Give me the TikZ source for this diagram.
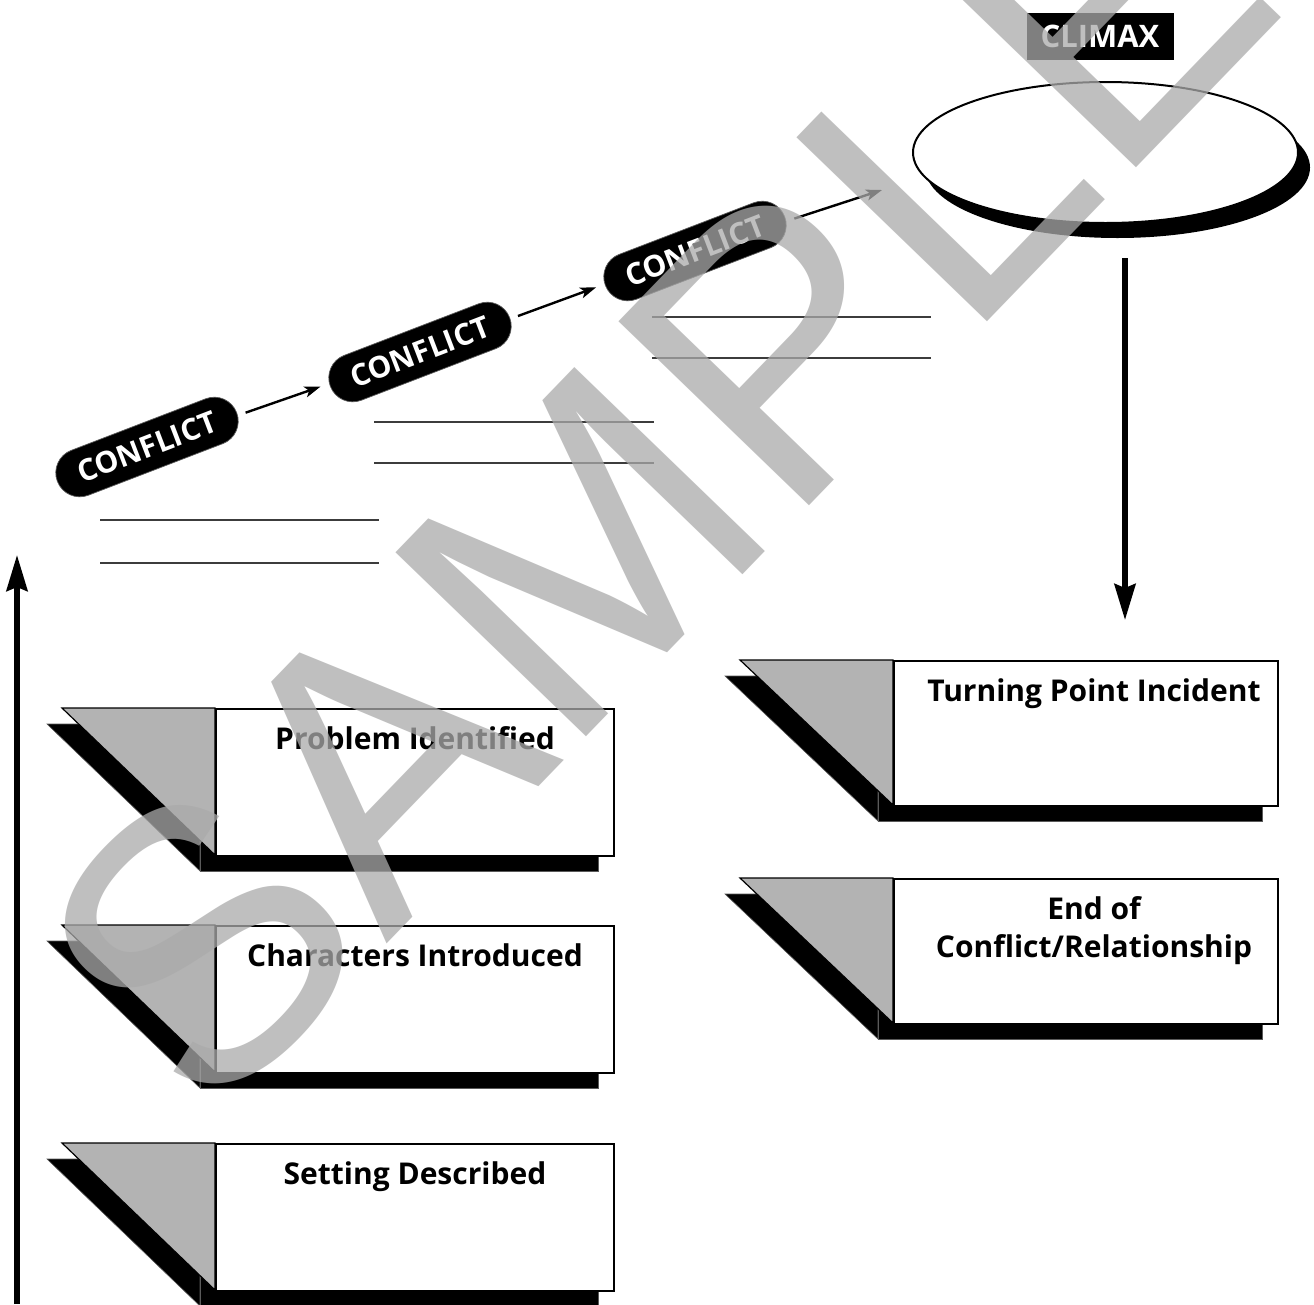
\documentclass[tikz,border=0pt]{standalone}
\usepackage{fontspec}
\setmainfont{Open Sans}
\newfontfamily\wmfont{Liberation Sans}
\usetikzlibrary{arrows.meta,shapes.geometric,calc}
\definecolor{triGray}{RGB}{179,179,179}
\definecolor{wmGray}{RGB}{170,170,170}
\definecolor{lineGray}{RGB}{60,60,60}
\definecolor{shEdge}{RGB}{90,90,90}

% #1 left x of white box, #2 top y, #3 right x, #4 bottom y
\newcommand\storyback[4]{%
  \filldraw[fill=black,draw=shEdge,line width=0.6pt] (#1-168,#2+16) -- (#1-15,#2+16) -- (#1-15,#4+16) -- cycle;
  \filldraw[fill=black,draw=shEdge,line width=0.6pt] (#1-15,#2+16) rectangle (#3-15,#4+16);
  \filldraw[fill=triGray,draw=black,line width=1.2pt,line join=miter] (#1-153,#2) -- (#1,#2) -- (#1,#4) -- cycle;
}

\tikzset{
  whitebox/.style={draw=black,fill=white,line width=2pt,inner sep=0pt,anchor=north west},
  boxtitle/.style={font=\fontsize{30}{38}\selectfont\bfseries,align=center,anchor=north,inner sep=0pt},
  pill/.style={fill=black,draw=shEdge,line width=0.7pt,rounded corners=24pt,minimum width=192pt,
    minimum height=48pt,inner sep=0pt,rotate=21,text=white,font=\fontsize{30}{30}\selectfont\bfseries},
  smallarrow/.style={line width=2.4pt,-{Stealth[length=16pt,width=11pt,inset=4pt]},shorten <=8pt,shorten >=9pt},
  bigarrow/.style={line width=5.5pt,-{Stealth[length=36pt,width=21pt,inset=4pt]}},
  blank/.style={line width=1.5pt,draw=lineGray},
}

\begin{document}
\begin{tikzpicture}[x=1pt,y=-1pt]
\useasboundingbox (0,0) rectangle (1314,1304);
\fill[white] (0,0) rectangle (1314,1304);

% vertical arrows
\coordinate (upstart) at (17,1304);
\coordinate (uptip) at (17,555);
\draw[bigarrow] (upstart) -- (uptip);

% story boxes (left column)
\storyback{215}{708}{613}{855}
\node[whitebox,minimum width=398pt,minimum height=147pt] (prob) at (215,708) {};
\node[boxtitle] (probt) at ($(prob.north)+(0,18)$) {Problem Identified};

\storyback{215}{925}{613}{1072}
\node[whitebox,minimum width=398pt,minimum height=147pt] (char) at (215,925) {};
\node[boxtitle] (chart) at ($(char.north)+(0,18)$) {Characters Introduced};

\storyback{215}{1143}{613}{1290}
\node[whitebox,minimum width=398pt,minimum height=147pt] (sett) at (215,1143) {};
\node[boxtitle] (settt) at ($(sett.north)+(0,18)$) {Setting Described};

% right column
\storyback{893}{660}{1277}{805}
\node[whitebox,minimum width=384pt,minimum height=145pt] (turn) at (893,660) {};
\node[boxtitle] (turnt) at ($(turn.north)+(8,18)$) {Turning Point Incident};

\storyback{893}{878}{1277}{1023}
\node[whitebox,minimum width=384pt,minimum height=145pt] (endc) at (893,878) {};
\node[boxtitle] (endct) at ($(endc.north)+(8,18)$) {End of\\Conflict/Relationship};

% blank lines
\draw[blank] (100,520) -- (379,520);
\draw[blank] (100,563) -- (379,563);
\draw[blank] (374,422) -- (654,422);
\draw[blank] (374,463) -- (654,463);
\draw[blank] (652,317) -- (931,317);
\draw[blank] (652,358) -- (931,358);

% conflict pills
\node[pill] (c1) at (147,447) {CONFLICT};
\node[pill] (c2) at (420,352) {CONFLICT};
\node[pill] (c3) at (695,251) {CONFLICT};
\coordinate (c3end) at (882,190);
\draw[smallarrow] (c1) -- (c2);
\draw[smallarrow] (c2) -- (c3);
\draw[smallarrow,shorten >=0pt] (c3) -- (c3end);

% climax
\fill[black] (1117.5,167.5) ellipse [x radius=192.5pt,y radius=70.5pt];
\node[ellipse,draw=black,fill=white,line width=2pt,minimum width=385pt,minimum height=141pt] (climax) at (1105.5,152.5) {};
\node[fill=black,text=white,minimum width=147pt,minimum height=47pt,inner sep=0pt,
  font=\fontsize{31}{31}\selectfont\bfseries] (climaxlabel) at (1100,36.5) {CLIMAX};

\coordinate (downstart) at (1125,258);
\coordinate (downtip) at (1125,620);
\draw[bigarrow] (downstart) -- (downtip);

% watermark
\node[text=wmGray,opacity=0.75,rotate=46,inner sep=0pt,
  font=\wmfont\fontsize{385}{385}\selectfont] (wm) at (655,475) {SAMPLE};
\end{tikzpicture}
\end{document}
